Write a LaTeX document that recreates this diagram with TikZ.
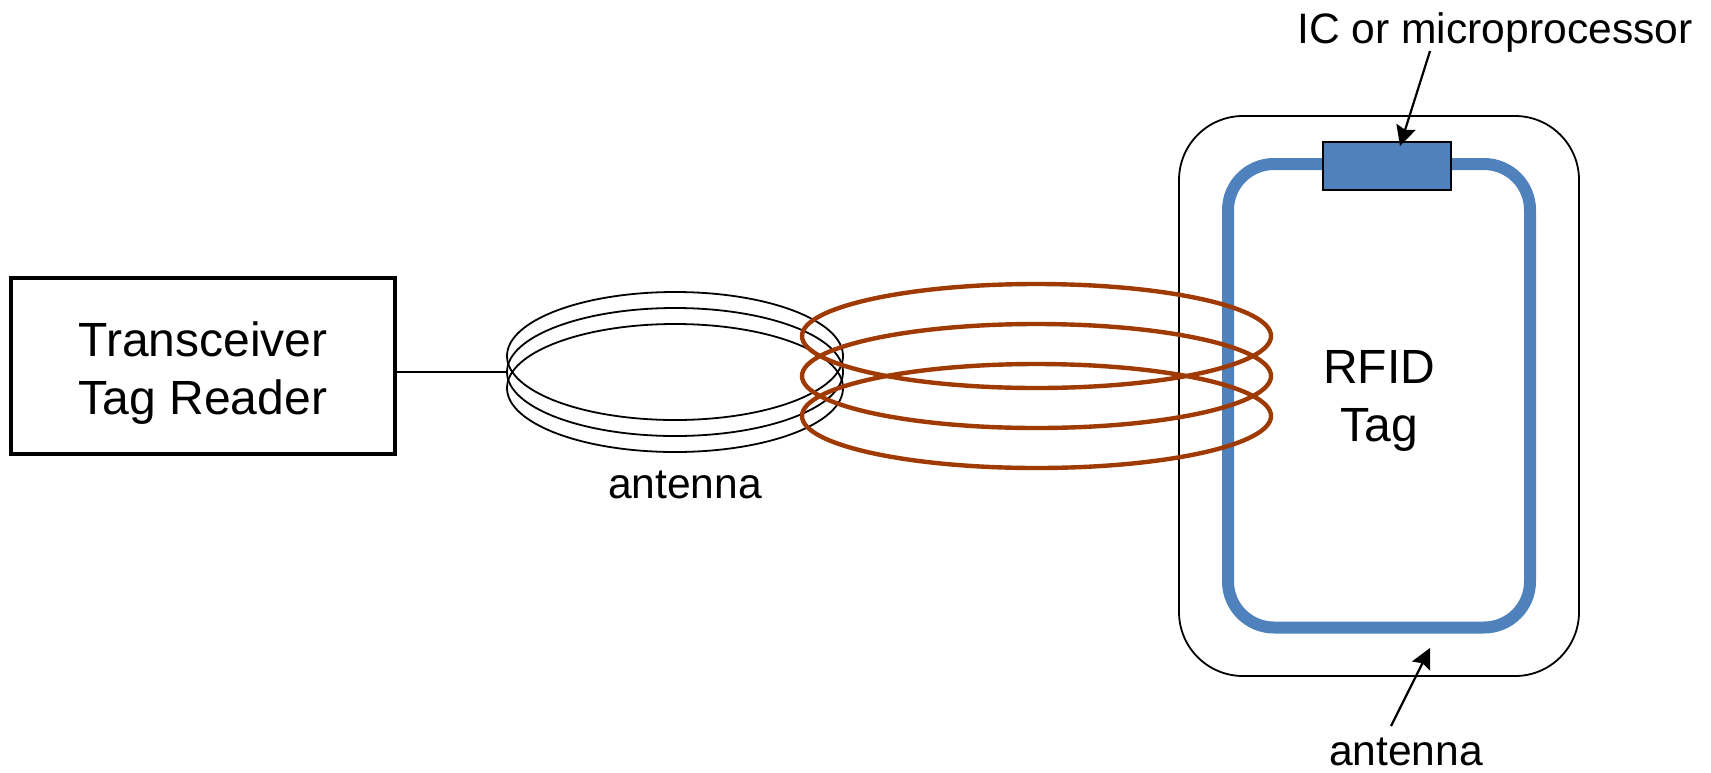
\documentclass[tikz,border=0pt]{standalone}
\usepackage{fontspec}
\setmainfont{Liberation Sans}
\usetikzlibrary{shapes.geometric,arrows.meta}
\definecolor{tagblue}{HTML}{4F81BD}
\definecolor{coilbrown}{HTML}{9E3A02}
\tikzset{
  bigtext/.style={font=\fontsize{24}{29}\selectfont,align=center},
  smalltext/.style={font=\fontsize{21.3}{25}\selectfont},
  readercoil/.style={ellipse,draw,line width=.9pt,minimum width=168pt,minimum height=64pt},
  tagcoil/.style={ellipse,draw=coilbrown,line width=2.2pt,minimum width=234.5pt,minimum height=52pt},
  pointer/.style={line width=1.1pt,-{Stealth[length=10pt,width=10pt,inset=1.5pt]}}
}
\begin{document}
\begin{tikzpicture}[x=.5pt,y=-.5pt]
      \useasboundingbox (0,0) rectangle (1711,772);

      \node[draw,line width=2pt,outer sep=0pt,inner sep=0pt,minimum width=192pt,minimum height=88pt,bigtext] (reader) at (203,366) {};
      \node[bigtext] (readerlabel) at (203,373) {Transceiver\\Tag Reader};

      \begin{scope}[every node/.style={inner sep=0pt,outer sep=0pt}]
        \node[readercoil] (coil1) at (675,356) {};
        \node[readercoil] (coil2) at (675,372) {};
        \node[readercoil] (coil3) at (675,388) {};
      \end{scope}
      \path[draw,line width=1pt] (reader.east |- coil2.west) -- (coil2.west);

      \node[smalltext] (coillabel) at (685,485) {antenna};

      \begin{scope}[every node/.style={inner sep=0pt,outer sep=0pt}]
        \node[draw,line width=.9pt,rounded corners=32pt,minimum width=200pt,minimum height=280pt] (tag) at (1379,396) {};
        \node[draw=tagblue,line width=6pt,rounded corners=23pt,minimum width=151pt,minimum height=231.75pt] (loop) at (1379,395.75) {};
        \node[draw,line width=1pt,fill=tagblue,minimum width=64pt,minimum height=24pt] (chip) at (1387,166) {};
        \node[tagcoil] (wave1) at (1036.5,336) {};
        \node[tagcoil] (wave2) at (1036.5,376) {};
        \node[tagcoil] (wave3) at (1036.5,416) {};
      \end{scope}

      \node[bigtext] (taglabel) at (1379,401) {RFID\\Tag};
      \node[smalltext] (chiplabel) at (1495,32) {IC or microprocessor};
      \node[smalltext] (looplabel) at (1406,752) {antenna};

      \coordinate (chipfrom) at (1430,51);
      \coordinate (chipto) at (1400,146);
      \coordinate (loopfrom) at (1391,726);
      \coordinate (loopto) at (1430,648);

      \path (chipfrom) edge[pointer] (chipto);
      \path (loopfrom) edge[pointer] (loopto);

    \end{tikzpicture}
\end{document}
